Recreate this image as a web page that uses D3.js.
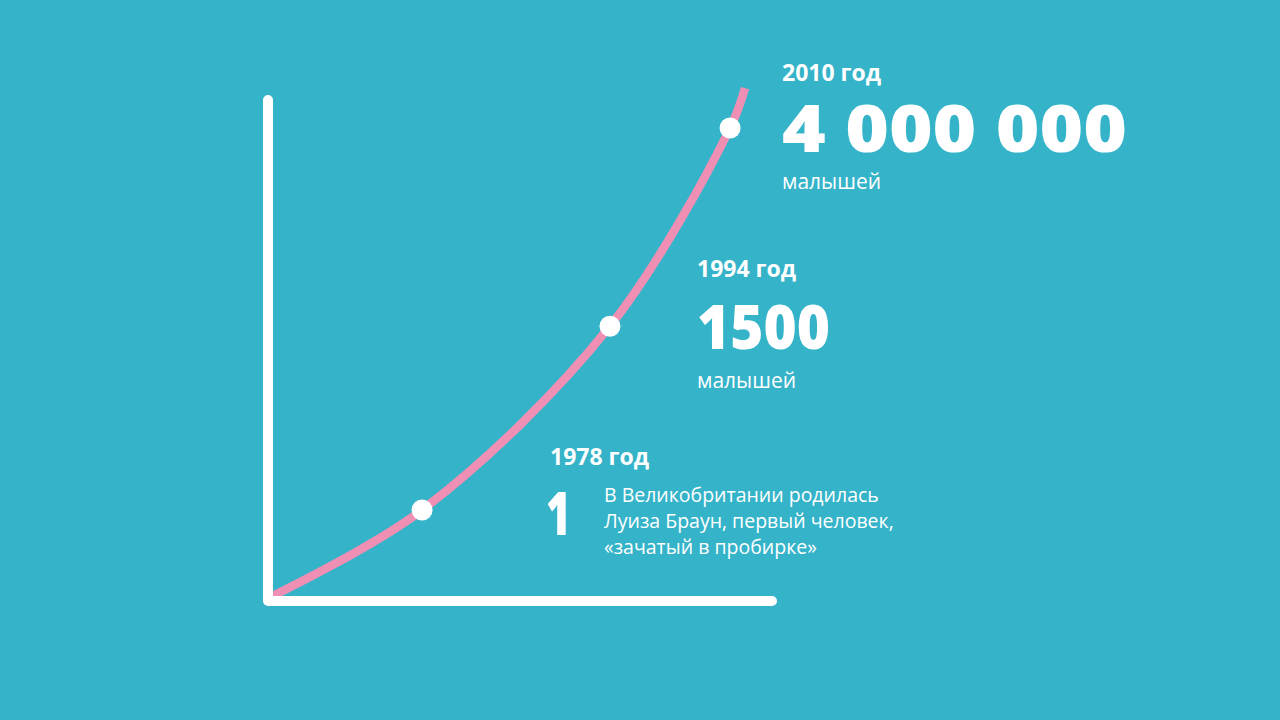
<!DOCTYPE html>
<html>
<head>
<meta charset="utf-8">
<script src="https://cdn.jsdelivr.net/npm/d3@7"></script>
<style>
  html, body { margin: 0; padding: 0; background: #35b3c9; }
  svg { display: block; }
  text { font-family: "Open Sans", "DejaVu Sans", sans-serif; fill: #ffffff; }
</style>
</head>
<body>
<svg id="chart" width="1280" height="720"></svg>
<script>
// ---- data ----
const years = [1978, 1994, 2010];
const babies = [1, 1500, 4000000];
const yearLabels = ["1978 год", "1994 год", "2010 год"];
const valueLabels = ["1", "1500", "4 000 000"];
const unitLabels = ["", "малышей", "малышей"];
const noteLines = ["В Великобритании родилась", "Луиза Браун, первый человек,", "«зачатый в пробирке»"];
// decorative curve ends (start at the origin, end past 2010)
const curveYears = [1973.1, 1978, 1994, 2010, 2012.3];
const curveValues = [0.03, 1, 1500, 4000000, 19500000];

// ---- layout ----
const W = 1280, H = 720;
const axisX = 268, axisTop = 100, axisY = 601, axisRight = 772;
const baseYear = 1973;

const svg = d3.select("#chart");
svg.append("rect").attr("width", W).attr("height", H).attr("fill", "#35b3c9");

const x = d3.scalePow().exponent(0.5).domain([0, 39.3]).range([243, 745]);
const y = d3.scaleLog().domain([1, 4000000]).range([510, 128]);

const curvePts = curveYears.map((yr, i) => [x(yr - baseYear), y(curveValues[i])]);
const line = d3.line().curve(d3.curveCatmullRom.alpha(0.5));

svg.append("path")
  .attr("d", line(curvePts))
  .attr("fill", "none")
  .attr("stroke", "#ef8fb4")
  .attr("stroke-width", 8.5)
  .attr("stroke-linecap", "butt");

// axes
svg.append("path")
  .attr("d", `M${axisX},${axisTop} L${axisX},${axisY} L${axisRight},${axisY}`)
  .attr("fill", "none")
  .attr("stroke", "#ffffff")
  .attr("stroke-width", 10)
  .attr("stroke-linecap", "round")
  .attr("stroke-linejoin", "round");

// milestone dots
svg.selectAll("circle.dot")
  .data(years)
  .enter().append("circle")
  .attr("class", "dot")
  .attr("cx", (d) => x(d - baseYear))
  .attr("cy", (d, i) => y(babies[i]))
  .attr("r", 10.5)
  .attr("fill", "#ffffff");

// labels
const labelLayout = [
  { x: 550, year: 465, vx: 546, value: 535, valueW: 25, valueSize: 60, unit: null, note: 502 },
  { x: 697, year: 277, vx: 697, value: 349, valueW: 133, valueSize: 62, unit: 388 },
  { x: 782, year: 81, vx: 782, value: 152, valueW: 345, valueSize: 66, unit: 189 }
];

years.forEach((yr, i) => {
  const L = labelLayout[i];
  svg.append("text")
    .attr("x", L.x).attr("y", L.year)
    .attr("font-size", 23).attr("font-weight", 700)
    .text(yearLabels[i]);
  svg.append("text")
    .attr("x", L.vx).attr("y", L.value)
    .attr("font-size", L.valueSize).attr("font-weight", 800)
    .attr("textLength", L.valueW).attr("lengthAdjust", "spacingAndGlyphs")
    .text(valueLabels[i]);
  if (unitLabels[i]) {
    svg.append("text")
      .attr("x", L.x).attr("y", L.unit)
      .attr("font-size", 21)
      .text(unitLabels[i]);
  }
  if (L.note) {
    const t = svg.append("text").attr("x", 604).attr("y", L.note).attr("font-size", 19.5);
    noteLines.forEach((ln, j) => {
      t.append("tspan").attr("x", 604).attr("dy", j === 0 ? 0 : 26).text(ln);
    });
  }
});
</script>
</body>
</html>
